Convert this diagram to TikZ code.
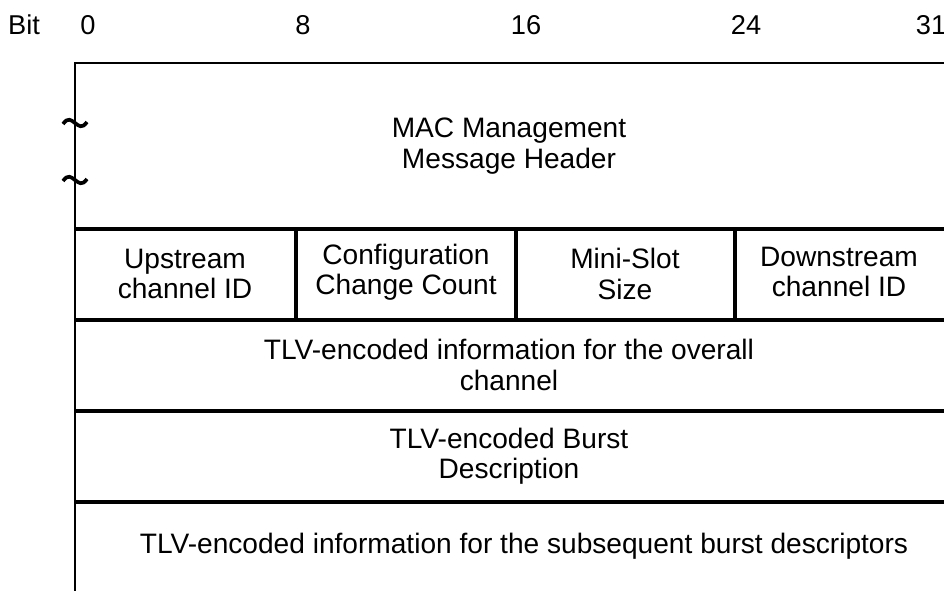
\documentclass[tikz,border=0pt]{standalone}
\usepackage{fontspec}
\setmainfont{Liberation Sans}
\usepackage{tikz}
\usetikzlibrary{positioning}
\tikzset{
  fld/.style={inner sep=0pt,align=center,font=\fontsize{16}{17.2}\selectfont},
  bitno/.style={inner sep=0pt,font=\fontsize{15.5}{17}\selectfont},
  rim/.style={draw=black,line width=1.5pt},
  sep/.style={draw=black,line width=2.8pt},
  cut/.style={draw=black,line width=2.1pt},
}

\begin{document}
\begin{tikzpicture}[x=0.02cm,y=-0.02cm]
\useasboundingbox (0,0) rectangle (944,591);
% bit numbers above the frame
\node[bitno] (bitlbl) at (24,25) {Bit};
\node[bitno] (b0) at (88,25) {0};
\node[bitno] (b8) at (303,25) {8};
\node[bitno] (b16) at (526,25) {16};
\node[bitno] (b24) at (746,25) {24};
\node[bitno] (b31) at (931,25) {31};
% frame: open at the right and at the bottom
\coordinate (tl) at (75,63); \coordinate (tr) at (944,63);
\coordinate (bl) at (75,591);
\draw[rim] (tr) -- (tl) -- (bl);
\foreach \y in {229,320,411,502}
  \draw[sep] (75,\y) -- (944,\y);
\foreach \x in {296,516,735}
  \draw[sep] (\x,229) -- (\x,320);
% break marks on the left edge
\foreach \y in {123,180}
  \draw[cut] (63,\y+1) .. controls (68,\y-6) and (71,\y-3) .. (75,\y)
             .. controls (79,\y+3) and (82,\y+6) .. (87,\y-1);
% fields
\node[fld] (hdr) at (509,146) {MAC Management\\Message Header};
\node[fld] (upid) at (185,274) {Upstream\\channel ID};
\node[fld] (ccc) at (406,272) {Configuration\\Change Count};
\node[fld] (mss) at (625,274) {Mini-Slot\\Size};
\node[fld] (dnid) at (839,272) {Downstream\\channel ID};
\node[fld] (tlvch) at (509,365) {TLV-encoded information for the overall\\channel};
\node[fld] (tlvbd) at (509,456) {TLV-encoded Burst\\Description};
\node[fld] (tlvsub) at (524,546) {TLV-encoded information for the subsequent burst descriptors};
\end{tikzpicture}
\end{document}
